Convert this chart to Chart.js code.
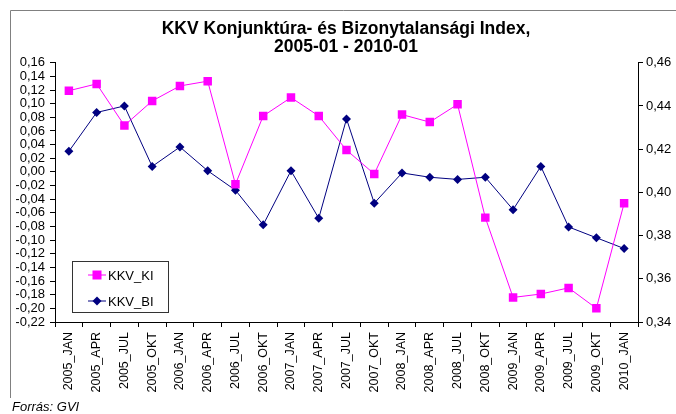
<!DOCTYPE html>
<html>
<head>
<meta charset="utf-8">
<script src="https://cdn.jsdelivr.net/npm/chart.js@4/dist/chart.umd.min.js"></script>
<style>
  html, body { margin: 0; padding: 0; background: #fff; }
  #wrap { width: 676px; height: 414px; }
</style>
</head>
<body>
<div id="wrap"><canvas id="chart" width="676" height="414"></canvas></div>
<script>
const quarters = [
  '2005_JAN', '2005_APR', '2005_JUL', '2005_OKT',
  '2006_JAN', '2006_APR', '2006_JUL', '2006_OKT',
  '2007_JAN', '2007_APR', '2007_JUL', '2007_OKT',
  '2008_JAN', '2008_APR', '2008_JUL', '2008_OKT',
  '2009_JAN', '2009_APR', '2009_JUL', '2009_OKT',
  '2010_JAN'
];

// konjunktura index (left axis)
const kkvKI = [
  0.119, 0.129, 0.068, 0.104, 0.126, 0.133, -0.018, 0.082,
  0.109, 0.082, 0.032, -0.003, 0.084, 0.073, 0.099, -0.067,
  -0.184, -0.179, -0.170, -0.200, -0.046
];

// bizonytalansagi index (right axis)
const kkvBI = [
  0.419, 0.437, 0.440, 0.412, 0.421, 0.410, 0.401, 0.385,
  0.410, 0.388, 0.434, 0.395, 0.409, 0.407, 0.406, 0.407,
  0.392, 0.412, 0.384, 0.379, 0.374
];

const titleLines = ['KKV Konjunktúra- és Bizonytalansági Index,', '2005-01 - 2010-01'];
const sourceText = 'Forrás: GVI';

const FONT = "'Liberation Sans', Arial, sans-serif";
const fmt = v => (Math.abs(v) < 1e-9 ? 0 : v).toFixed(2).replace('.', ',');

// frame, source note and the boxed legend inside the plot
const extras = {
  id: 'extras',
  afterDraw(chart) {
    const ctx = chart.ctx;
    const area = chart.chartArea;
    ctx.save();
    ctx.strokeStyle = '#808080';
    ctx.lineWidth = 1;
    ctx.beginPath();
    ctx.moveTo(10.5, 398);
    ctx.lineTo(10.5, 10.5);
    ctx.lineTo(676, 10.5);
    ctx.stroke();

    ctx.fillStyle = '#000';
    ctx.font = 'italic 13px ' + FONT;
    ctx.textBaseline = 'middle';
    ctx.textAlign = 'left';
    ctx.fillText(sourceText, 12, 407);

    // legend box
    const bx = area.left + 17, by = area.bottom - 61, bw = 96, bh = 51;
    ctx.fillStyle = '#fff';
    ctx.fillRect(bx, by, bw, bh);
    ctx.strokeStyle = '#333';
    ctx.strokeRect(bx + 0.5, by + 0.5, bw, bh);

    chart.data.datasets.forEach((ds, i) => {
      const y = by + 14 + i * 26;
      const x0 = bx + 16, x1 = bx + 34, xm = (x0 + x1) / 2;
      ctx.strokeStyle = ds.borderColor;
      ctx.lineWidth = 1;
      ctx.beginPath();
      ctx.moveTo(x0, y);
      ctx.lineTo(x1, y);
      ctx.stroke();
      ctx.fillStyle = ds.pointBackgroundColor;
      if (ds.pointStyle === 'rect') {
        ctx.fillRect(xm - 4.5, y - 4.5, 9, 9);
      } else {
        ctx.beginPath();
        ctx.moveTo(xm, y - 4.5);
        ctx.lineTo(xm + 4.5, y);
        ctx.lineTo(xm, y + 4.5);
        ctx.lineTo(xm - 4.5, y);
        ctx.closePath();
        ctx.fill();
      }
      ctx.fillStyle = '#000';
      ctx.font = '13px ' + FONT;
      ctx.textAlign = 'left';
      ctx.fillText(ds.label, x1 + 2, y + 1);
    });
    ctx.restore();
  }
};

new Chart(document.getElementById('chart'), {
  type: 'line',
  data: {
    labels: quarters,
    datasets: [
      {
        label: 'KKV_KI',
        data: kkvKI,
        yAxisID: 'y',
        borderColor: '#FF00FF',
        backgroundColor: '#FF00FF',
        pointBackgroundColor: '#FF00FF',
        pointBorderColor: '#FF00FF',
        pointStyle: 'rect',
        pointRadius: 6,
        pointBorderWidth: 0,
        borderWidth: 1,
        tension: 0
      },
      {
        label: 'KKV_BI',
        data: kkvBI,
        yAxisID: 'y2',
        borderColor: '#000080',
        backgroundColor: '#000080',
        pointBackgroundColor: '#000080',
        pointBorderColor: '#000080',
        pointStyle: 'rectRot',
        pointRadius: 4.5,
        pointBorderWidth: 0,
        borderWidth: 1,
        tension: 0
      }
    ]
  },
  options: {
    responsive: false,
    animation: false,
    devicePixelRatio: 1,
    layout: { padding: { left: 16, right: 0, top: 0, bottom: 0 } },
    plugins: {
      legend: { display: false },
      tooltip: { enabled: false },
      title: {
        display: true,
        text: titleLines,
        color: '#000',
        font: { family: FONT, size: 17.5, weight: 'bold', lineHeight: 1.05 },
        padding: { top: 20, bottom: 6 }
      }
    },
    scales: {
      x: {
        type: 'category',
        offset: true,
        grid: { offset: true, drawOnChartArea: false, tickLength: 5, color: '#000' },
        border: { color: '#000', width: 1 },
        ticks: {
          autoSkip: false,
          minRotation: 90,
          maxRotation: 90,
          padding: 5,
          color: '#000',
          font: { family: FONT, size: 12.5 }
        },
        afterFit: s => { s.height = 92; }
      },
      y: {
        position: 'left',
        min: -0.22,
        max: 0.16,
        grid: { drawOnChartArea: false, tickLength: 5, color: '#000' },
        border: { color: '#000', width: 1 },
        ticks: {
          autoSkip: false,
          stepSize: 0.02,
          padding: 5,
          color: '#000',
          font: { family: FONT, size: 13 },
          callback: v => fmt(v)
        },
        afterFit: s => { s.width = 39; }
      },
      y2: {
        position: 'right',
        min: 0.34,
        max: 0.46,
        grid: { drawOnChartArea: false, tickLength: 5, color: '#000' },
        border: { color: '#000', width: 1 },
        ticks: {
          autoSkip: false,
          stepSize: 0.02,
          padding: 3,
          color: '#000',
          font: { family: FONT, size: 13 },
          callback: v => fmt(v)
        },
        afterFit: s => { s.width = 38; }
      }
    }
  },
  plugins: [extras]
});
</script>
</body>
</html>
